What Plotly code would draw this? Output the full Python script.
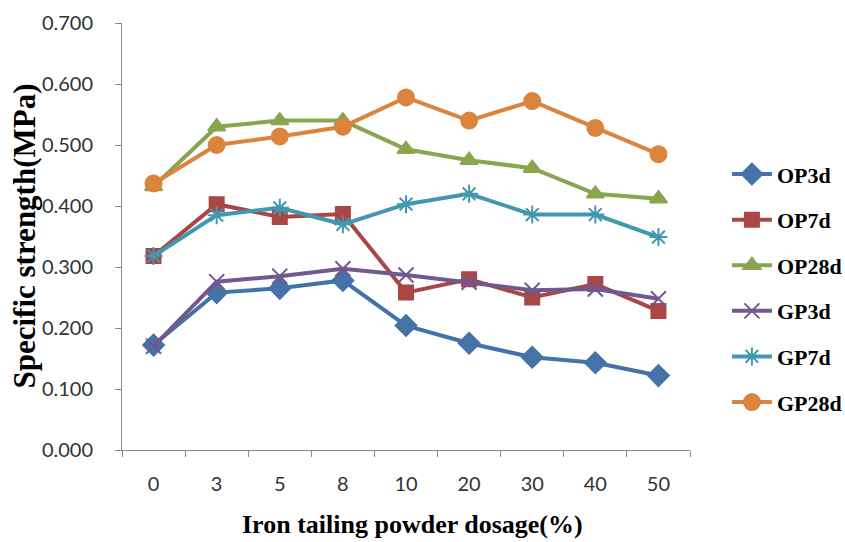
import plotly.graph_objects as go

categories = ["0", "3", "5", "8", "10", "20", "30", "40", "50"]
op3d = [0.172, 0.258, 0.265, 0.278, 0.204, 0.175, 0.152, 0.143, 0.122]
op7d = [0.318, 0.403, 0.382, 0.387, 0.258, 0.280, 0.250, 0.272, 0.228]
op28d = [0.432, 0.530, 0.540, 0.540, 0.493, 0.475, 0.462, 0.420, 0.412]
gp3d = [0.170, 0.276, 0.285, 0.297, 0.287, 0.275, 0.262, 0.264, 0.248]
gp7d = [0.318, 0.385, 0.397, 0.370, 0.403, 0.420, 0.386, 0.386, 0.349]
gp28d = [0.437, 0.500, 0.514, 0.530, 0.578, 0.540, 0.572, 0.528, 0.485]

x_title = "Iron tailing powder dosage(%)"
y_title = "Specific strength(MPa)"

series = [
    ("OP3d", op3d, "#4572A7", "diamond", 16),
    ("OP7d", op7d, "#AA4643", "square", 14),
    ("OP28d", op28d, "#89A54E", "triangle-up", 15),
    ("GP3d", gp3d, "#71588F", "x-thin-open", 15),
    ("GP7d", gp7d, "#4198AF", "asterisk-open", 15),
    ("GP28d", gp28d, "#DB843D", "circle", 16),
]

fig = go.Figure()
for i, (name, vals, color, sym, size) in enumerate(series):
    fig.add_trace(go.Scatter(
        x=categories, y=vals, name=name, mode="lines+markers",
        line=dict(color=color, width=4),
        marker=dict(symbol=sym, size=size, color=color,
                    line=dict(color=color, width=2)),
        legendgroup=f"g{i}",
    ))

title_font_x = dict(family="Liberation Serif", size=26, color="black", weight="bold")
title_font_y = dict(family="Liberation Serif", size=31, color="black", weight="bold")

fig.update_layout(
    width=845, height=542,
    margin=dict(l=122, r=155, t=23, b=92, autoexpand=False),
    paper_bgcolor="white", plot_bgcolor="white",
    showlegend=True,
    legend=dict(x=1.065, y=0.695, xanchor="left", yanchor="top",
                font=dict(family="Liberation Serif", size=22, color="black", weight="bold"),
                tracegroupgap=14, itemwidth=40, bgcolor="rgba(0,0,0,0)"),
    xaxis=dict(type="category", range=[-0.5, 8.5], showline=True, linecolor="#898989",
               linewidth=1, ticks="outside", tickson="boundaries", ticklen=6,
               tickcolor="#898989", showgrid=False, ticklabelstandoff=16,
               tickfont=dict(family="Lato", size=20, color="#333333")),
    yaxis=dict(range=[0, 0.7], tickvals=[0, 0.1, 0.2, 0.3, 0.4, 0.5, 0.6, 0.7],
               tickformat=".3f", showline=True, linecolor="#898989", linewidth=1,
               ticks="outside", ticklen=6, tickcolor="#898989", showgrid=False,
               zeroline=False, ticklabelstandoff=18,
               tickfont=dict(family="Lato", size=20, color="#333333")),
    annotations=[
        dict(text=x_title, xref="paper", yref="paper", x=0.512, y=-0.1756,
             xanchor="center", yanchor="middle", showarrow=False, font=title_font_x),
        dict(text=y_title, xref="paper", yref="paper", x=-0.1725, y=0.5,
             xanchor="center", yanchor="middle", textangle=-90, showarrow=False,
             font=title_font_y),
    ],
)

fig.write_html("out.html")
